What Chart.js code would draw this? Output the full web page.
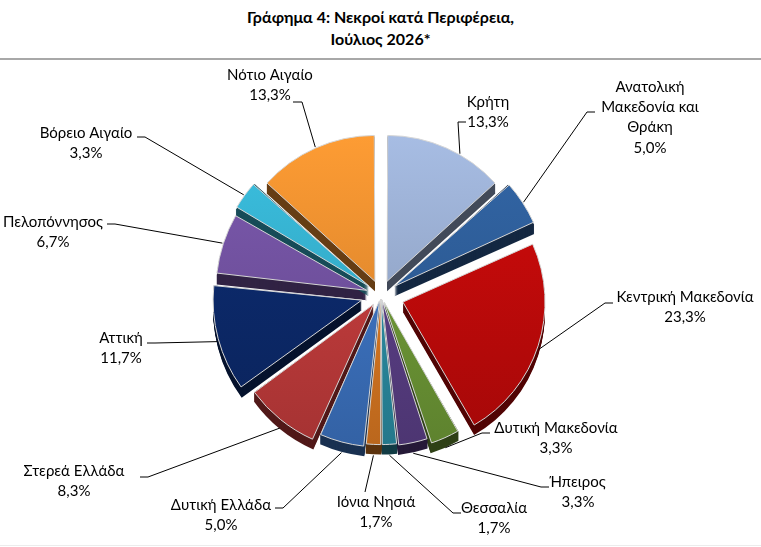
<!DOCTYPE html>
<html lang="el">
<head>
<meta charset="utf-8">
<script src="https://cdn.jsdelivr.net/npm/chart.js@4.4.1/dist/chart.umd.min.js"></script>
<style>
  html, body { margin: 0; padding: 0; background: #fff; }
  #wrap { position: relative; width: 761px; height: 547px; overflow: hidden; }
  #title { position: absolute; top: 6px; left: 0; width: 761px; text-align: center;
           font: bold 16px Lato, sans-serif; line-height: 22px; color: #000; }
  #rule { position: absolute; top: 58px; left: 0; width: 761px; border-top: 2px solid #a8a8a8; }
  #rule2 { position: absolute; top: 545px; left: 0; width: 761px; border-top: 1px solid #ececec; }
  canvas { position: absolute; left: 0; top: 0; }
</style>
</head>
<body>
<div id="wrap">
  <div id="title">Γράφημα 4: Νεκροί κατά Περιφέρεια,<br>Ιούλιος 2026*</div>
  <div id="rule"></div>
  <div id="rule2"></div>
  <canvas id="chart1" width="761" height="547"></canvas>
</div>
<script>
// regions, clockwise from 12 o'clock
const regions = [
    'Κρήτη',
    'Ανατολική\nΜακεδονία και\nΘράκη',
    'Κεντρική Μακεδονία',
    'Δυτική Μακεδονία',
    'Ήπειρος',
    'Θεσσαλία',
    'Ιόνια Νησιά',
    'Δυτική Ελλάδα',
    'Στερεά Ελλάδα',
    'Αττική',
    'Πελοπόννησος',
    'Βόρειο Αιγαίο',
    'Νότιο Αιγαίο'
];
const shares = [13.3, 5.0, 23.3, 3.3, 3.3, 1.7, 1.7, 5.0, 8.3, 11.7, 6.7, 3.3, 13.3];

const colors = [
    '#9cb0d4', // Κρήτη
    '#2f5f9c', // Ανατολική Μακεδονία και Θράκη
    '#c20a0a', // Κεντρική Μακεδονία
    '#6f9a37', // Δυτική Μακεδονία
    '#5b3f86', // Ήπειρος
    '#2b8ea4', // Θεσσαλία
    '#dc7a22', // Ιόνια Νησιά
    '#3d74c2', // Δυτική Ελλάδα
    '#c23c3c', // Στερεά Ελλάδα
    '#0c2a6b', // Αττική
    '#7453a3', // Πελοπόννησος
    '#37b4d2', // Βόρειο Αιγαίο
    '#f39130'  // Νότιο Αιγαίο
];
// explode distance in px (Chart.js moves an arc by offset / 4)
const explode = [15, 16, 23, 8, 5, 4, 4, 6, 12, 20, 15, 15, 15];
const depth = 10;

// label placement: text centre (tx, ty of first line), leader elbow and end
const callouts = [
    { tx: 488, ty: 102, at: 0.62, pts: [[458, 122], [466, 122]] },
    { tx: 650, ty: 87,  at: 0.5,  pts: [[587, 112], [595, 112]] },
    { tx: 685, ty: 297, at: 0.5,  pts: [[605, 303], [613, 303]] },
    { tx: 556, ty: 428, at: 0.5,  pts: [[482, 433], [490, 433]] },
    { tx: 578, ty: 482, at: 0.5,  pts: [[541, 487], [549, 487]] },
    { tx: 494, ty: 508, at: 0.5,  pts: [[453, 513], [461, 513]] },
    { tx: 376, ty: 502, at: 0.5,  pts: [[365, 492]] },
    { tx: 221, ty: 505, at: 0.5,  pts: [[283, 508], [275, 508]] },
    { tx: 74,  ty: 471, at: 0.5,  pts: [[148, 477], [140, 477]] },
    { tx: 121, ty: 338, at: 0.5,  pts: [[155, 343], [147, 343]] },
    { tx: 53,  ty: 222, at: 0.5,  pts: [[115, 224], [107, 224]] },
    { tx: 86,  ty: 133, at: 0.5,  pts: [[145, 137], [137, 137]] },
    { tx: 270, ty: 75,  at: 0.5,  pts: [[302, 102], [293, 102]] }
];

function shade(hex, f) {
    const n = parseInt(hex.slice(1), 16);
    const ch = v => Math.min(255, Math.round(v * f));
    return 'rgb(' + ch((n >> 16) & 255) + ',' + ch((n >> 8) & 255) + ',' + ch(n & 255) + ')';
}

// same geometry Chart.js uses when it draws an offset arc
function arcGeom(arc) {
    const p = arc.getProps(['x', 'y', 'startAngle', 'endAngle', 'outerRadius', 'circumference']);
    const off = (arc.options.offset || 0) / 4;
    const mid = (p.startAngle + p.endAngle) / 2;
    const fix = 1 - Math.sin(Math.min(Math.PI, p.circumference || 0));
    return { ...p, mid, r: p.outerRadius + off * fix,
             cx: p.x + Math.cos(mid) * off, cy: p.y + Math.sin(mid) * off };
}

// side faces: the slice extruded downwards in a darker tone
const pieDepth = {
    id: 'pieDepth',
    beforeDatasetsDraw(chart) {
        const ctx = chart.ctx;
        chart.getDatasetMeta(0).data.forEach((arc, i) => {
            const g = arcGeom(arc);
            ctx.save();
            ctx.fillStyle = shade(colors[i], 0.42);
            for (let d = depth; d >= 1; d--) {
                ctx.beginPath();
                ctx.moveTo(g.cx, g.cy + d);
                ctx.arc(g.cx, g.cy + d, g.r, g.startAngle, g.endAngle);
                ctx.closePath();
                ctx.fill();
            }
            ctx.restore();
        });
    }
};

const calloutLabels = {
    id: 'calloutLabels',
    afterDatasetsDraw(chart) {
        const ctx = chart.ctx;
        ctx.save();
        ctx.font = '15px Lato, sans-serif';
        ctx.fillStyle = '#000';
        ctx.strokeStyle = '#000';
        ctx.lineWidth = 1;
        ctx.textAlign = 'center';
        ctx.textBaseline = 'middle';
        chart.getDatasetMeta(0).data.forEach((arc, i) => {
            const g = arcGeom(arc);
            const c = callouts[i];
            const a = g.startAngle + (g.endAngle - g.startAngle) * c.at;
            const ax = g.cx + Math.cos(a) * (g.r + 1);
            const ay = g.cy + Math.sin(a) * (g.r + 1) + Math.max(0, Math.sin(a)) * depth;
            ctx.beginPath();
            ctx.moveTo(ax, ay);
            c.pts.forEach(p => ctx.lineTo(p[0], p[1]));
            ctx.stroke();
            const lines = regions[i].split('\n').concat([shares[i].toFixed(1).replace('.', ',') + '%']);
            lines.forEach((t, k) => ctx.fillText(t, c.tx, c.ty + k * 20.3));
        });
        ctx.restore();
    }
};

const ctx = document.getElementById('chart1').getContext('2d');

const chart1 = new Chart(ctx, {
    type: 'pie',
    data: {
        labels: regions,
        datasets: [{
            data: shares,
            backgroundColor: (context) => {
                const i = context.dataIndex;
                const grad = context.chart.ctx.createLinearGradient(0, 140, 0, 450);
                grad.addColorStop(0, shade(colors[i], 1.08));
                grad.addColorStop(1, shade(colors[i], 0.84));
                return grad;
            },
            borderColor: '#d6d6d6',
            borderWidth: 1,
            offset: explode.map(v => v * 4)
        }]
    },
    options: {
        responsive: false,
        animation: false,
        radius: 142,
        rotation: 0,
        layout: { padding: { left: 108, right: 107, top: 100, bottom: 57 } },
        plugins: {
            legend: { display: false },
            tooltip: { enabled: false }
        }
    },
    plugins: [pieDepth, calloutLabels]
});
</script>
</body>
</html>
